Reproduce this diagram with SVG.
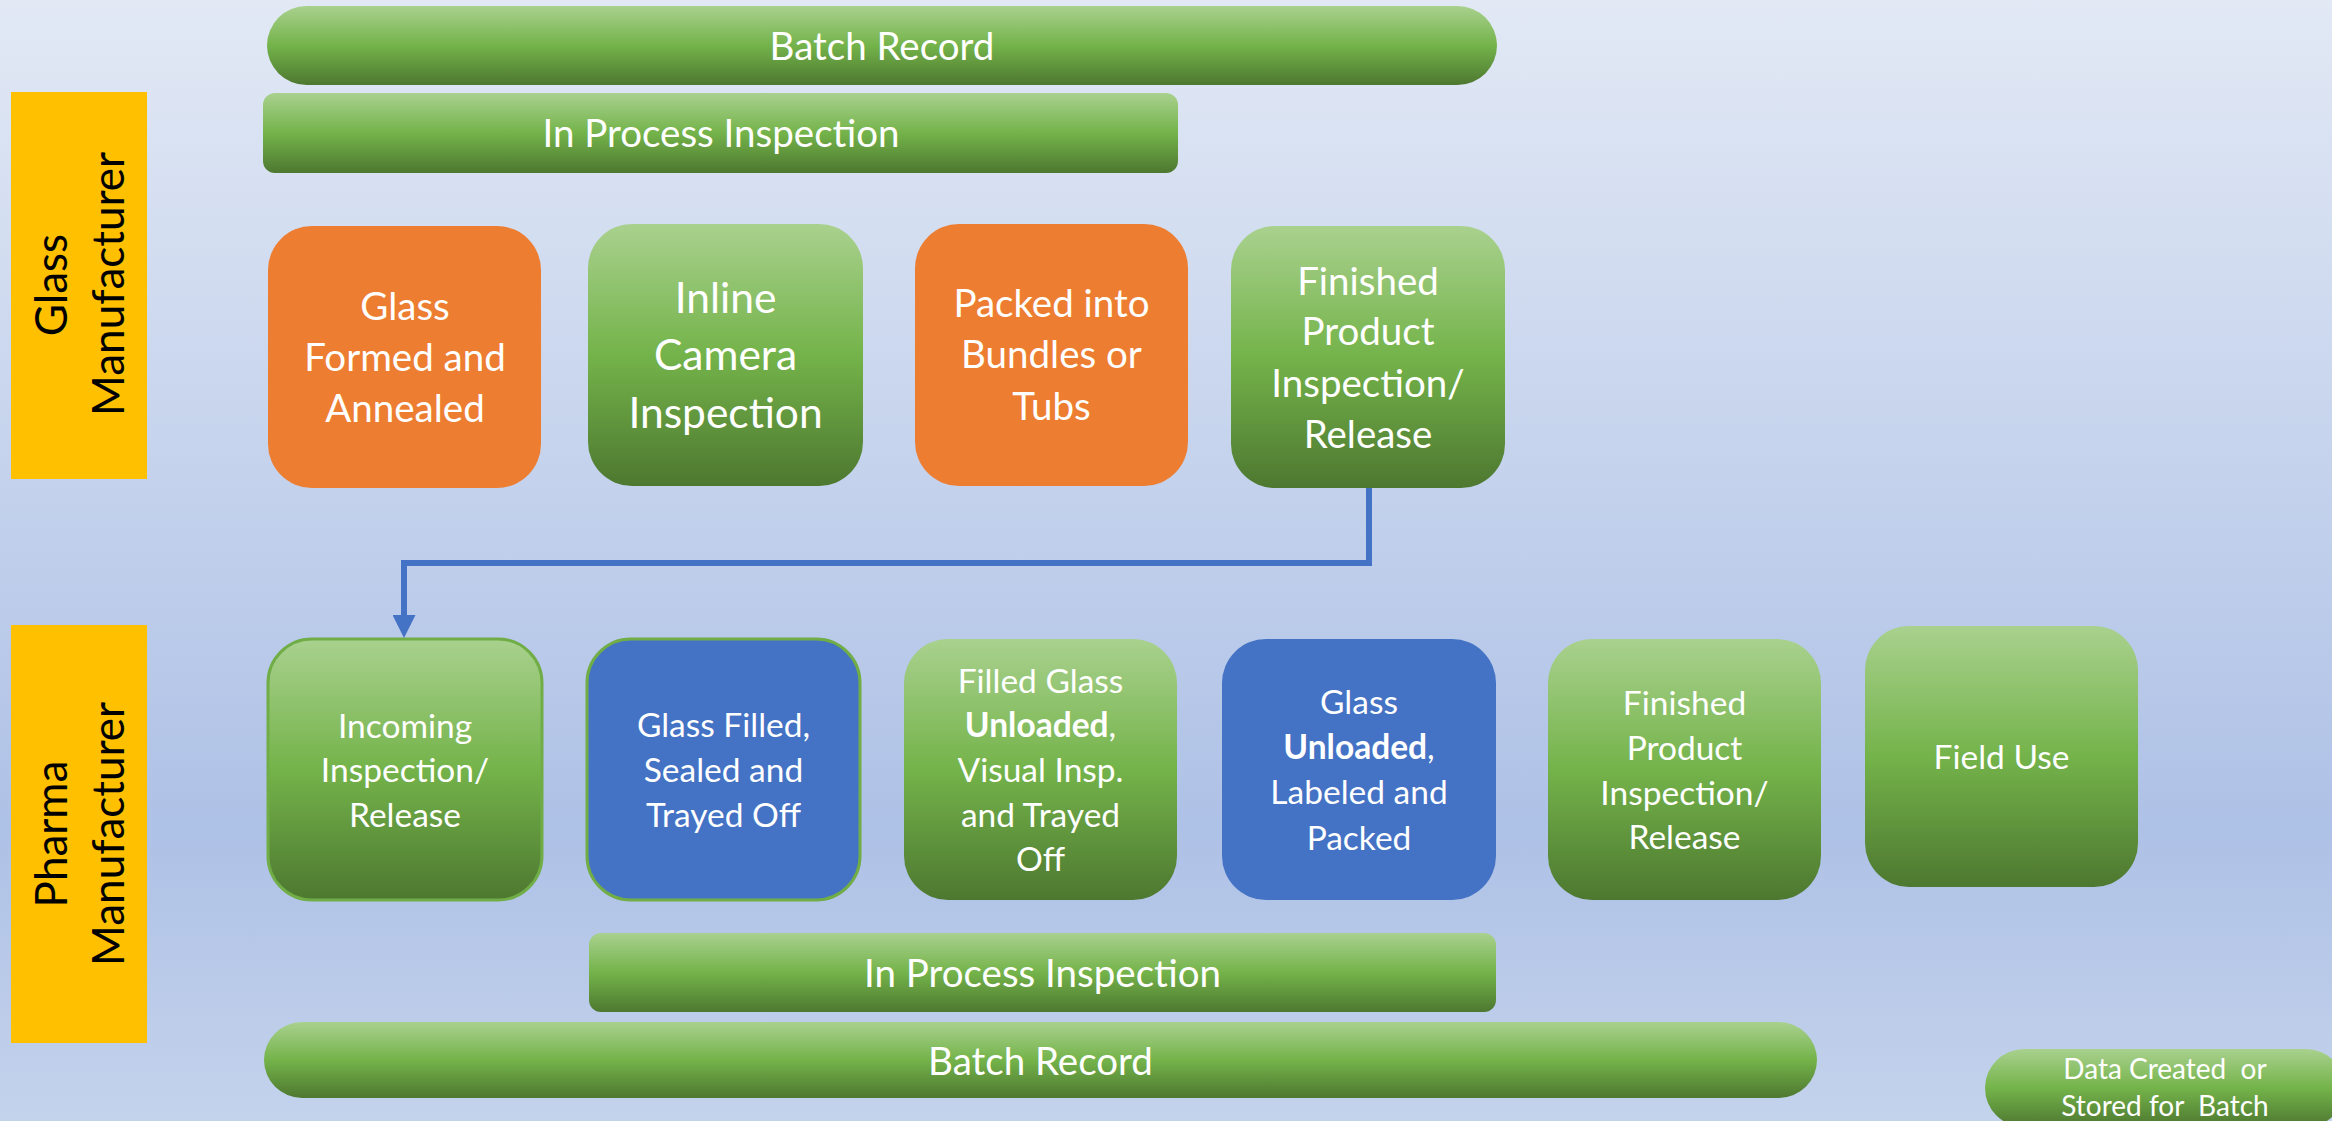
<svg xmlns="http://www.w3.org/2000/svg" width="2332" height="1121" viewBox="0 0 2332 1121">
<defs>
  <linearGradient id="bg" x1="0" y1="0" x2="0" y2="1">
    <stop offset="0" stop-color="#E2E9F5"/>
    <stop offset="0.74" stop-color="#AEC1E6"/>
    <stop offset="1" stop-color="#C4D3EC"/>
  </linearGradient>
  <linearGradient id="gr" x1="0" y1="0" x2="0" y2="1">
    <stop offset="0" stop-color="#A9D18E"/>
    <stop offset="0.5" stop-color="#74B34A"/>
    <stop offset="1" stop-color="#4D7830"/>
  </linearGradient>
  <marker id="ah" viewBox="0 0 10 10" refX="0" refY="5" markerWidth="23" markerHeight="23" markerUnits="userSpaceOnUse" orient="auto">
    <path d="M0,0 L10,5 L0,10 Z" fill="#4472C4"/>
  </marker>
  <style>
    .t { font-family: Lato, "Open Sans", "Liberation Sans", sans-serif; fill: #FFFFFF; text-anchor: middle; }
    .lbl { font-family: Lato, "Open Sans", "Liberation Sans", sans-serif; fill: #000000; text-anchor: middle; font-size: 44px; }
    .green { fill: url(#gr); }
    .orange { fill: #ED7D31; }
    .blue { fill: #4472C4; }
    .edge { stroke: #70AD47; stroke-width: 3; }
    .yellow { fill: #FFC000; }
    .s37 { font-size: 38.5px; }
    .s42 { font-size: 42.5px; }
    .s32 { font-size: 33.5px; }
    .s28 { font-size: 28px; }
    .b { font-weight: bold; }
  </style>
</defs>
<rect x="0" y="0" width="2332" height="1121" fill="url(#bg)"/>

<g id="label-glass">
  <rect class="yellow" x="11" y="92" width="136" height="387"/>
  <text class="lbl" transform="translate(67,285) rotate(-90)">Glass</text>
  <text class="lbl" transform="translate(124,284) rotate(-90)">Manufacturer</text>
</g>
<g id="label-pharma">
  <rect class="yellow" x="11" y="625" width="136" height="418"/>
  <text class="lbl" transform="translate(67,834) rotate(-90)">Pharma</text>
  <text class="lbl" transform="translate(124,834) rotate(-90)">Manufacturer</text>
</g>

<g id="batch-record-top">
  <rect class="green" x="267" y="6" width="1230" height="79" rx="39.5"/>
  <text class="t s37" x="882" y="60">Batch Record</text>
</g>
<g id="in-process-top">
  <rect class="green" x="263" y="93" width="915" height="80" rx="12"/>
  <text class="t s37" x="721" y="147">In Process Inspection</text>
</g>

<g id="glass-formed">
  <rect class="orange" x="268" y="226" width="273" height="262" rx="44"/>
  <text class="t s37" x="405" y="320">Glass</text>
  <text class="t s37" x="405" y="371">Formed and</text>
  <text class="t s37" x="405" y="422">Annealed</text>
</g>
<g id="inline-camera">
  <rect class="green" x="588" y="224" width="275" height="262" rx="44"/>
  <text class="t s42" x="725.5" y="313">Inline</text>
  <text class="t s42" x="725.5" y="370">Camera</text>
  <text class="t s42" x="725.5" y="428">Inspection</text>
</g>
<g id="packed">
  <rect class="orange" x="915" y="224" width="273" height="262" rx="44"/>
  <text class="t s37" x="1051.5" y="317">Packed into</text>
  <text class="t s37" x="1051.5" y="368">Bundles or</text>
  <text class="t s37" x="1051.5" y="420">Tubs</text>
</g>
<g id="finished-glass">
  <rect class="green" x="1231" y="226" width="274" height="262" rx="44"/>
  <text class="t s37" x="1368" y="295">Finished</text>
  <text class="t s37" x="1368" y="345">Product</text>
  <text class="t s37" x="1368" y="397">Inspection/</text>
  <text class="t s37" x="1368" y="448">Release</text>
</g>

<g id="incoming">
  <rect class="green edge" x="268" y="639" width="274" height="261" rx="44"/>
  <text class="t s32" x="405" y="738">Incoming</text>
  <text class="t s32" x="405" y="782">Inspection/</text>
  <text class="t s32" x="405" y="827">Release</text>
</g>
<g id="glass-filled">
  <rect class="blue edge" x="587" y="639" width="273" height="261" rx="44"/>
  <text class="t s32" x="723.5" y="737">Glass Filled,</text>
  <text class="t s32" x="723.5" y="782">Sealed and</text>
  <text class="t s32" x="723.5" y="827">Trayed Off</text>
</g>
<g id="filled-unloaded">
  <rect class="green" x="904" y="639" width="273" height="261" rx="44"/>
  <text class="t s32" x="1040.5" y="693">Filled Glass</text>
  <text class="t s32" x="1040.5" y="737"><tspan class="b">Unloaded</tspan>,</text>
  <text class="t s32" x="1040.5" y="782">Visual Insp.</text>
  <text class="t s32" x="1040.5" y="827">and Trayed</text>
  <text class="t s32" x="1040.5" y="871">Off</text>
</g>
<g id="glass-unloaded">
  <rect class="blue" x="1222" y="639" width="274" height="261" rx="44"/>
  <text class="t s32" x="1359" y="714">Glass</text>
  <text class="t s32" x="1359" y="759"><tspan class="b">Unloaded</tspan>,</text>
  <text class="t s32" x="1359" y="804">Labeled and</text>
  <text class="t s32" x="1359" y="850">Packed</text>
</g>
<g id="finished-pharma">
  <rect class="green" x="1548" y="639" width="273" height="261" rx="44"/>
  <text class="t s32" x="1684.5" y="715">Finished</text>
  <text class="t s32" x="1684.5" y="760">Product</text>
  <text class="t s32" x="1684.5" y="805">Inspection/</text>
  <text class="t s32" x="1684.5" y="849">Release</text>
</g>
<g id="field-use">
  <rect class="green" x="1865" y="626" width="273" height="261" rx="44"/>
  <text class="t s32" x="2001.5" y="769">Field Use</text>
</g>

<g id="in-process-bottom">
  <rect class="green" x="589" y="933" width="907" height="79" rx="12"/>
  <text class="t s37" x="1042.5" y="987">In Process Inspection</text>
</g>
<g id="batch-record-bottom">
  <rect class="green" x="264" y="1022" width="1553" height="76" rx="38"/>
  <text class="t s37" x="1040.5" y="1075">Batch Record</text>
</g>
<g id="legend">
  <rect class="green" x="1985" y="1049" width="360" height="78" rx="39"/>
  <text class="t s28" x="2165" y="1079" xml:space="preserve">Data Created  or</text>
  <text class="t s28" x="2165" y="1116" xml:space="preserve">Stored for  Batch</text>
</g>

<g id="connectors">
  <path d="M1369,488 V563 H404 V615" fill="none" stroke="#4472C4" stroke-width="6" marker-end="url(#ah)"/>
</g>
</svg>
